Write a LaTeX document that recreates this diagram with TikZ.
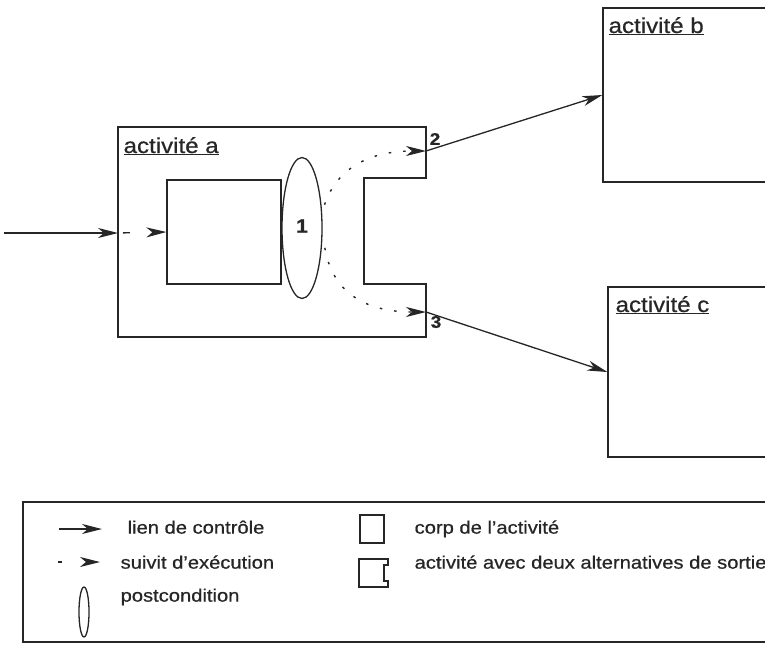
\documentclass[tikz,border=0pt]{standalone}
\usepackage{fontspec}
\setmainfont{Liberation Sans}[FakeStretch=1.12,FakeBold=0.6]
\usetikzlibrary{arrows.meta,shapes.geometric}
\definecolor{ink}{HTML}{262626}
\begin{document}
\begin{tikzpicture}[x=1pt,y=-1pt,
  line width=1.3pt, draw=ink, text=ink,
  tip/.style={-{Stealth[length=20pt,width=10pt,inset=6pt]}},
  ctrl/.style={draw=ink,tip},
  exec/.style={draw=ink,tip,line width=1.4pt,dash pattern=on 2.5pt off 12pt},
  box/.style={draw=ink,rectangle,inner sep=0pt},
  title/.style={anchor=base west,inner sep=0pt,font=\fontsize{21.5}{25}\selectfont},
  lab/.style={inner sep=0pt,font=\fontsize{17}{20}\selectfont\bfseries},
  leg/.style={anchor=mid west,inner sep=0pt,font=\fontsize{18}{21}\selectfont}]
\useasboundingbox (0,0) rectangle (765,645);
\clip (0,0) rectangle (765,645);
\fill[white] (0,0) rectangle (765,645);

% activity a (outer shape with exit notch)
\draw (118,127) coordinate (aNW) -- (426,127) -- (426,178) -- (364,178)
  -- (364,284) -- (426,284) -- (426,337) -- (118,337) -- cycle;
\coordinate (aW) at (118,233);
\coordinate (o2) at (426,151);
\coordinate (o3) at (426,312);
\coordinate (start) at (4,233);
\node[title] (ta) at (123,153) {\underline{activité a}};
\node[box,minimum width=114pt,minimum height=104pt] (body) at (224,232) {};
\node[draw=ink,ellipse,inner sep=0pt,minimum width=40pt,minimum height=141pt] (post) at (302,228) {};
\node[lab,font=\fontsize{19}{20}\selectfont\bfseries] (n1) at (302,226) {1};
\node[lab] (n2) at (435,139) {2};
\node[lab] (n3) at (436,322) {3};

% activity b and c
\node[box,minimum width=220pt,minimum height=174pt] (b) at (713,95) {};
\node[title] (tb) at (608,33) {\underline{activité b}};
\node[box,minimum width=220pt,minimum height=170pt] (c) at (718,372) {};
\node[title] (tc) at (615,312) {\underline{activité c}};

% connectors
\draw[ctrl] (start) -- (aW);
\draw[draw=ink,tip,dash pattern=on 0pt off 5pt on 7pt off 30pt] (aW) -- (body.west);
\draw[exec] ([xshift=3pt]post.50) .. controls (334,176) and (360,151) .. (o2);
\draw[exec] ([xshift=3pt]post.-45) .. controls (332,290) and (362,312) .. (o3);
\draw[ctrl] (o2) -- (b.west);
\draw[ctrl] (o3) -- (c.west);

% legend
\draw (23,502) rectangle (800,642);
\coordinate (l1a) at (59,529); \coordinate (l1b) at (102,529);
\draw[ctrl] (l1a) -- (l1b);
\node[leg] (t1) at (127,531) {lien de contrôle};
\coordinate (l2a) at (58,562); \coordinate (l2b) at (100,562);
\draw[draw=ink,tip,dash pattern=on 4pt off 30pt] (l2a) -- (l2b);
\node[leg] (t2) at (120,566) {suivit d'exécution};
\node[draw=ink,ellipse,inner sep=0pt,minimum width=10pt,minimum height=50pt] (le) at (84,612) {};
\node[leg] (t3) at (120,599) {postcondition};
\node[box,minimum width=24pt,minimum height=28pt] (lr) at (372,529) {};
\node[leg] (t4) at (414,531) {corp de l'activité};
\draw (359,559) -- (388,559) -- (388,565) -- (384,565) -- (384,581)
  -- (388,581) -- (388,587) -- (359,587) -- cycle;
\node[leg] (t5) at (414,566) {activité avec deux alternatives de sortie};
\end{tikzpicture}
\end{document}
